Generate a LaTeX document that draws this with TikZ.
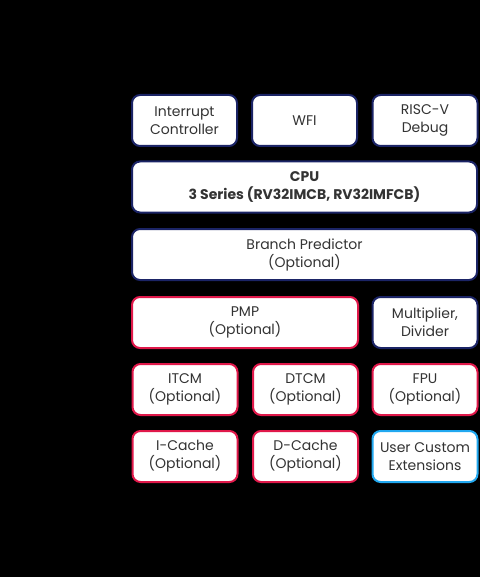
\documentclass[tikz,border=0pt]{standalone}
\usepackage{fontspec}
\setmainfont{Poppins}
\usepackage{xcolor}
\definecolor{navyline}{HTML}{1B2466}
\definecolor{redline}{HTML}{E0184A}
\definecolor{cyanline}{HTML}{21A8F0}

\begin{document}
\begin{tikzpicture}[x=0.75pt, y=-0.75pt]
  \tikzstyle{block} = [draw=navyline, fill=white, line width=1.5pt, rounded corners=6pt,
    align=center, inner sep=0pt, minimum height=38.25pt, text=black!80,
    font=\fontsize{10.5}{13.5}\selectfont]
  \tikzstyle{small} = [block, minimum width=78.75pt]
  \tikzstyle{wide} = [block, minimum width=258.75pt]
  \tikzstyle{opt} = [small, draw=redline]

  \fill[black] (0,0) rectangle (480,577);

  \node[small] (irq) at (184.5,120.5) {Interrupt\\Controller};
  \node[small] (wfi) at (304.5,120.5) {WFI};
  \node[small] (dbg) at (425,120.5) {RISC-V\\Debug};

  \node[wide, font=\fontsize{10.5}{13.5}\selectfont\bfseries] (cpu) at (304.5,187) {CPU\\3 Series (RV32IMCB, RV32IMFCB)};
  \node[wide] (bp) at (304.5,254.5) {Branch Predictor\\(Optional)};

  \node[block, draw=redline, minimum width=169.5pt] (pmp) at (245,322.5) {PMP\\(Optional)};
  \node[small] (mul) at (425,322.5) {Multiplier,\\Divider};

  \node[opt] (itcm) at (185,389.5) {ITCM\\(Optional)};
  \node[opt] (dtcm) at (305.5,389.5) {DTCM\\(Optional)};
  \node[opt] (fpu) at (425,389.5) {FPU\\(Optional)};

  \node[opt] (icache) at (185,456.5) {I-Cache\\(Optional)};
  \node[opt] (dcache) at (305.5,456.5) {D-Cache\\(Optional)};
  \node[small, draw=cyanline] (ext) at (425,456.5) {User Custom\\Extensions};
\end{tikzpicture}
\end{document}
